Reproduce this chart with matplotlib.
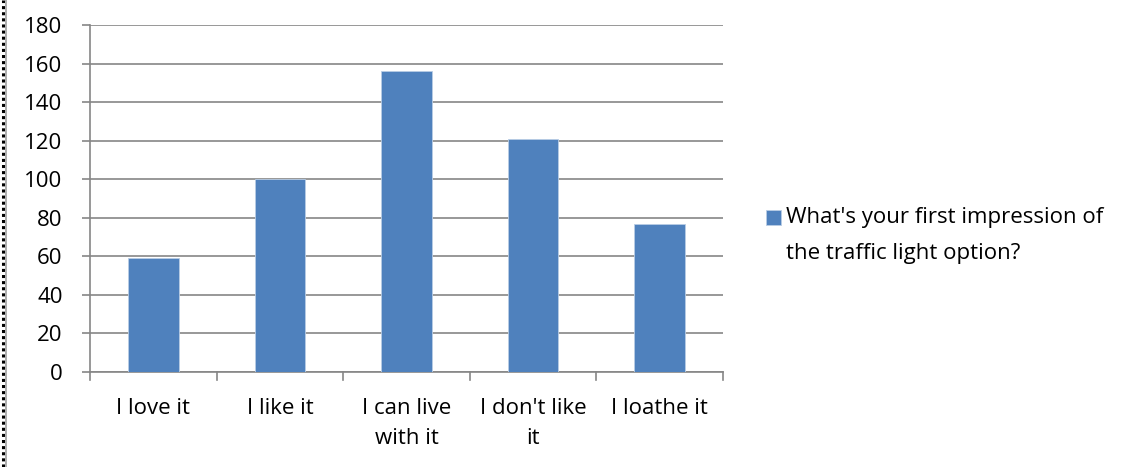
import matplotlib

matplotlib.use("Agg")
import matplotlib.pyplot as plt
from matplotlib.lines import Line2D
from matplotlib.patches import Rectangle

categories = ["I love it", "I like it", "I can live\nwith it", "I don't like\nit", "I loathe it"]
counts = [59, 100, 156, 121, 77]
series_name = "What's your first impression of\nthe traffic light option?"
y_ticks = [0, 20, 40, 60, 80, 100, 120, 140, 160, 180]

BAR = "#4f81bd"
GRID = "#868686"
W, H = 1124, 467
FS = 16

plt.rcParams["font.family"] = ["Open Sans", "DejaVu Sans"]

fig = plt.figure(figsize=(W / 100, H / 100), dpi=100)
ax = fig.add_axes((90 / W, 1 - 372 / H, 633 / W, 347 / H))

x = range(len(categories))
ax.bar(x, counts, width=0.40, color=BAR, edgecolor="#b9cde5", linewidth=0.6, zorder=3)

ax.set_xlim(-0.5, len(categories) - 0.5)
ax.set_ylim(0, 180)
ax.set_yticks(y_ticks)
ax.set_yticklabels([str(v) for v in y_ticks], fontsize=FS)
ax.yaxis.grid(True, color=GRID, linewidth=1.2, zorder=0)
ax.set_axisbelow(True)

# category labels sit between the boundary ticks
ax.set_xticks(list(x))
ax.set_xticklabels(categories, fontsize=FS, linespacing=1.55)
ax.tick_params(axis="x", length=0, pad=19)
for b in [i - 0.5 for i in range(len(categories) + 1)]:
    ax.plot([b, b], [0, -4], color=GRID, linewidth=1.2, clip_on=False, zorder=4)

ax.tick_params(axis="y", length=5.8, width=1.2, color=GRID, pad=14)
for s in ("top", "right"):
    ax.spines[s].set_visible(False)
for s in ("left", "bottom"):
    ax.spines[s].set_color(GRID)
    ax.spines[s].set_linewidth(1.2)

# legend: swatch + two-line series name
fig.add_artist(Rectangle((766 / W, 1 - 225 / H), 15 / W, 15 / H,
                         facecolor=BAR, edgecolor="#b9cde5", linewidth=0.6,
                         transform=fig.transFigure))
fig.text(786 / W, 1 - 207 / H, series_name, fontsize=FS, va="top", ha="left",
         linespacing=1.95)

# page border on the left edge
fig.add_artist(Line2D([2.5 / W, 2.5 / W], [0, 1], color="black",
                      linewidth=2.2, linestyle=(0, (1, 1)), transform=fig.transFigure))
fig.add_artist(Line2D([6.5 / W, 6.5 / W], [0, 1], color="#a0a0a0",
                      linewidth=1.2, transform=fig.transFigure))

fig.savefig("out.png", dpi=100)
